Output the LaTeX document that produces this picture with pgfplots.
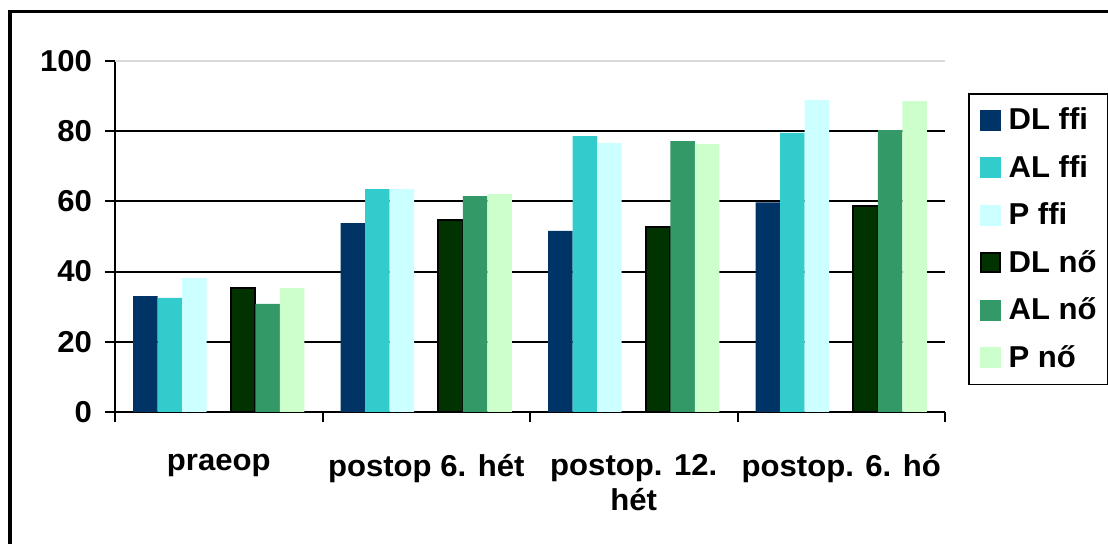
\documentclass[border=0pt]{standalone}
\usepackage{pgfplots}
\pgfplotsset{compat=1.18}
\usepackage{fontspec}
\setmainfont{Liberation Sans}[FakeStretch=1.03]
\definecolor{dlf}{HTML}{003366}
\definecolor{alf}{HTML}{33CCCC}
\definecolor{pf}{HTML}{CCFFFF}
\definecolor{dln}{HTML}{003300}
\definecolor{aln}{HTML}{339966}
\definecolor{pn}{HTML}{CCFFCC}
\newcommand\lblfont{\fontsize{15.1}{17.5}\selectfont\bfseries}
\pgfplotsset{
 sq/.style={legend image code/.code={\path[##1, draw=none] (0pt,-5.2pt) rectangle (10.4pt,5.2pt);}},
 sqb/.style={legend image code/.code={\path[##1, draw=black, line width=1pt] (0.5pt,-4.7pt) rectangle (9.9pt,4.7pt);}},
}
\begin{document}
\begin{tikzpicture}
\begin{axis}[
 scale only axis, width=415pt, height=175.5pt,
 xmin=-0.5, xmax=3.5, ymin=0, ymax=100,
 axis lines*=left,
 axis line style={black, line width=1.2pt},
 ybar, bar width=0.118,
 ytick={0,20,40,60,80},
 extra y ticks={100},
 extra y tick style={grid style={gray!30, line width=1pt}},
 ymajorgrids, grid style={black, line width=1pt},
 tick align=outside,
 major tick length=5pt, minor tick length=5pt,
 ytick style={black, line width=1pt},
 xtick={0,1,2,3},
 xticklabels={praeop, postop 6. hét, {postop. 12.\\hét}, postop. 6. hó},
 minor xtick={-0.5,0.5,1.5,2.5,3.5},
 major x tick style={draw=none},
 minor x tick style={black, line width=1pt},
 tick label style={font=\lblfont},
 yticklabel style={xshift=-3pt},
 xticklabel style={align=center, yshift=-12.5pt},
 /pgf/number format/assume math mode=true,
 legend cell align=left,
 legend style={at={(1.0277,0.9088)}, anchor=north west, draw=black, line width=0.8pt,
   inner xsep=5.5pt, inner ysep=1.4pt, column sep=4pt,
   nodes={inner sep=0pt, minimum height=23.75pt, font=\lblfont}},
]
\addplot[fill=dlf, draw=none, bar shift=-0.354, sq] coordinates {(0,33.0) (1,53.8) (2,51.6) (3,59.7)};
\addplot[fill=alf, draw=none, bar shift=-0.236, sq] coordinates {(0,32.5) (1,63.5) (2,78.6) (3,79.5)};
\addplot[fill=pf, draw=none, bar shift=-0.118, sq] coordinates {(0,38.2) (1,63.5) (2,76.6) (3,88.9)};
\addplot[fill=dln, draw=black, line width=1pt, bar shift=0.118, sqb] coordinates {(0,35.3) (1,54.7) (2,52.8) (3,58.8)};
\addplot[fill=aln, draw=none, bar shift=0.236, sq] coordinates {(0,30.8) (1,61.5) (2,77.2) (3,80.3)};
\addplot[fill=pn, draw=none, bar shift=0.354, sq] coordinates {(0,35.3) (1,62.1) (2,76.4) (3,88.6)};
\legend{DL ffi, AL ffi, P ffi, DL nő, AL nő, P nő}
\end{axis}
\draw[line width=1.6pt] (-52.5pt,-100pt) rectangle (540pt,200.2pt);
\pgfresetboundingbox
\path[use as bounding box] (-57.5pt,-66pt) rectangle (496.5pt,206pt);
\end{tikzpicture}
\end{document}
